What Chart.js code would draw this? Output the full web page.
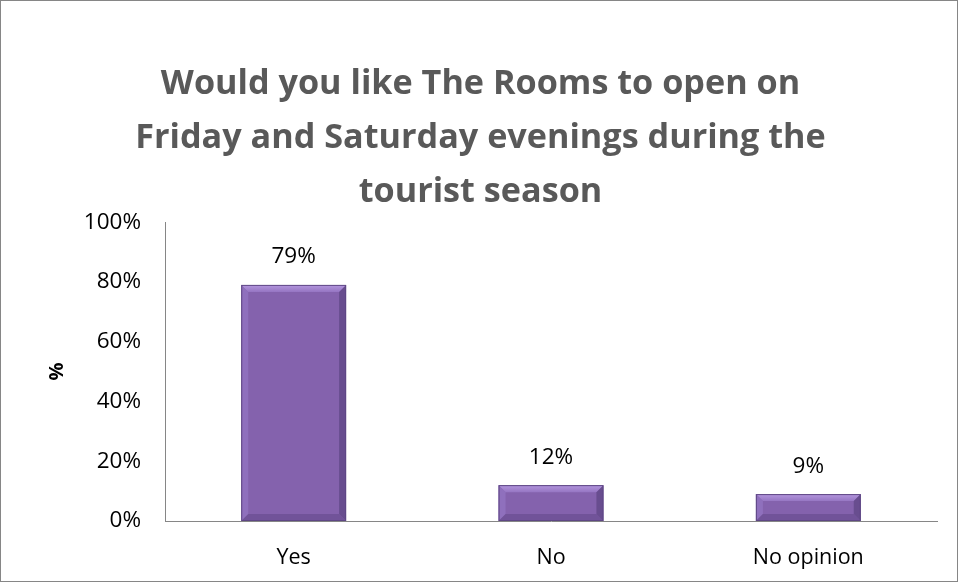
<!DOCTYPE html>
<html>
<head>
<meta charset="utf-8">
<script src="https://cdn.jsdelivr.net/npm/chart.js@4.4.1/dist/chart.umd.min.js"></script>
<style>
  html, body { margin: 0; padding: 0; background: #fff; }
  #wrap { width: 958px; height: 582px; box-sizing: border-box; border: 1px solid #868686; }
  canvas { display: block; }
</style>
</head>
<body>
<div id="wrap"><canvas id="roomsChart" width="956" height="580"></canvas></div>
<script>
const categories = ['Yes', 'No', 'No opinion'];
const percentValues = [79, 12, 9];
const titleLines = ['Would you like The Rooms to open on', 'Friday and Saturday evenings during the', 'tourist season'];

const FONT = "'Open Sans', 'Liberation Sans', sans-serif";
const CAT_PCT = 0.5;
const BAR_PCT = 0.815;

// bevel edges on the bars, then value labels above them
const barDecor = {
    id: 'barDecor',
    afterDatasetsDraw(chart) {
        const ctx = chart.ctx;
        const meta = chart.getDatasetMeta(0);
        ctx.save();
        meta.data.forEach((bar, i) => {
            const l = bar.x - bar.width / 2, r = bar.x + bar.width / 2;
            const t = bar.y, b = bar.base;
            const d = Math.min(7, (b - t) / 2);
            // top bevel
            const gt = ctx.createLinearGradient(0, t, 0, t + d);
            gt.addColorStop(0, '#b497de');
            gt.addColorStop(1, '#9676c3');
            ctx.fillStyle = gt;
            ctx.beginPath();
            ctx.moveTo(l, t); ctx.lineTo(r, t); ctx.lineTo(r - d, t + d); ctx.lineTo(l + d, t + d);
            ctx.closePath(); ctx.fill();
            // left bevel
            ctx.fillStyle = 'rgba(146,116,192,0.8)';
            ctx.beginPath();
            ctx.moveTo(l, t); ctx.lineTo(l + d, t + d); ctx.lineTo(l + d, b - d); ctx.lineTo(l, b);
            ctx.closePath(); ctx.fill();
            // right bevel
            ctx.fillStyle = 'rgba(92,68,130,0.7)';
            ctx.beginPath();
            ctx.moveTo(r, t); ctx.lineTo(r - d, t + d); ctx.lineTo(r - d, b - d); ctx.lineTo(r, b);
            ctx.closePath(); ctx.fill();
            // bottom bevel
            ctx.fillStyle = 'rgba(100,74,140,0.6)';
            ctx.beginPath();
            ctx.moveTo(l, b); ctx.lineTo(l + d, b - d); ctx.lineTo(r - d, b - d); ctx.lineTo(r, b);
            ctx.closePath(); ctx.fill();
            ctx.strokeStyle = '#5e4784';
            ctx.lineWidth = 1;
            ctx.strokeRect(l + 0.5, t + 0.5, bar.width - 1, b - t - 1);
        });
        ctx.font = '22.5px ' + FONT;
        ctx.fillStyle = '#000';
        ctx.textAlign = 'center';
        ctx.textBaseline = 'middle';
        meta.data.forEach((bar, i) => {
            ctx.fillText(percentValues[i] + '%', bar.x, bar.y - 28);
        });
        ctx.restore();
    }
};

const ctx = document.getElementById('roomsChart').getContext('2d');
new Chart(ctx, {
    type: 'bar',
    data: {
        labels: categories,
        datasets: [{
            data: percentValues,
            backgroundColor: '#8462ad',
            borderWidth: 0,
            barPercentage: BAR_PCT,
            categoryPercentage: CAT_PCT
        }]
    },
    options: {
        responsive: false,
        animation: false,
        layout: { padding: { left: 23, right: 20, top: 0, bottom: 10 } },
        plugins: {
            legend: { display: false },
            tooltip: { enabled: false },
            title: {
                display: true,
                text: titleLines,
                color: '#595959',
                font: { family: FONT, size: 34.2, weight: 'bold', lineHeight: 1.58 },
                padding: { top: 56, bottom: 3 }
            }
        },
        scales: {
            x: {
                grid: { display: false, drawTicks: false },
                border: { color: '#868686', width: 1 },
                ticks: { color: '#000', font: { family: FONT, size: 21.5 }, padding: 24 },
                afterFit: scale => { scale.height = 50; }
            },
            y: {
                min: 0,
                max: 100,
                grid: { display: false, drawTicks: false },
                border: { color: '#868686', width: 1 },
                ticks: {
                    stepSize: 20,
                    color: '#000',
                    padding: 24,
                    font: { family: FONT, size: 22.5 },
                    callback: v => v + '%'
                },
                title: {
                    display: true,
                    text: '%',
                    color: '#000',
                    font: { family: FONT, size: 20, weight: 'bold' },
                    padding: { top: 21, bottom: 0 }
                },
                afterFit: scale => { scale.width = 141; }
            }
        }
    },
    plugins: [barDecor]
});
</script>
</body>
</html>
